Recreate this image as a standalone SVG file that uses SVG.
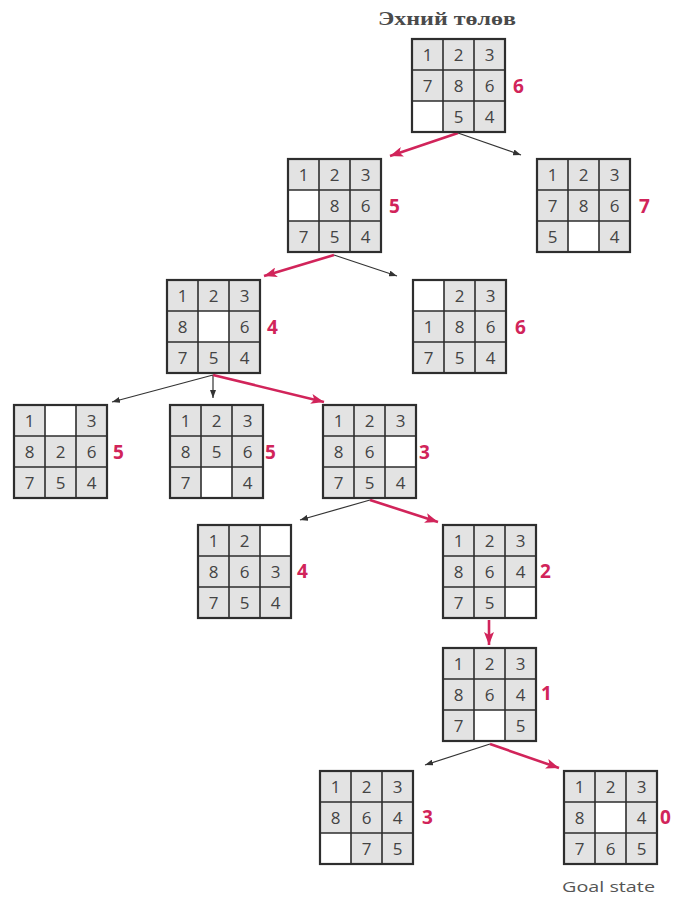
<svg xmlns="http://www.w3.org/2000/svg" xmlns:xlink="http://www.w3.org/1999/xlink" width="673" height="898" viewBox="0 0 673 898">
<style>
.bg{fill:#e3e3e3}
.blank{fill:#ffffff}
.n{font-family:"Open Sans","Liberation Sans",sans-serif;font-size:17px;fill:#444;text-anchor:middle}
.h{font-family:"Open Sans","Liberation Sans",sans-serif;font-size:19px;font-weight:700;fill:#d1245a}
.red{stroke:#d1245a;stroke-width:2.6;fill:none}
.blk{stroke:#333;stroke-width:1.2;fill:none}
.title{font-family:"Liberation Serif",serif;font-size:19px;font-weight:700;fill:#4a4a4a}
.goal{font-family:"Open Sans","Liberation Sans",sans-serif;font-size:15px;fill:#555}
</style>
<defs>
<g id="grid" fill="none" stroke="#2e2e2e">
<rect x="0" y="0" width="93" height="93" stroke-width="2.2"/>
<path d="M31,0V93M62,0V93M0,31H93M0,62H93" stroke-width="1.6"/>
</g>
<marker id="ar" markerUnits="userSpaceOnUse" markerWidth="14" markerHeight="10" refX="13" refY="5" orient="auto">
<path d="M0,0L13,5L0,10L3,5Z" fill="#d1245a"/>
</marker>
<marker id="ab" markerUnits="userSpaceOnUse" markerWidth="8" markerHeight="6" refX="8" refY="3" orient="auto">
<path d="M0,0L8,3L0,6Z" fill="#333"/>
</marker>
</defs>
<rect width="673" height="898" fill="#fff"/>
<text class="title" x="447" y="25" text-anchor="middle" textLength="138" lengthAdjust="spacingAndGlyphs">Эхний төлөв</text>

<g id="connectors">
<path class="red" d="M458,133L390,156" marker-end="url(#ar)"/>
<path class="blk" d="M458,133L521,155" marker-end="url(#ab)"/>
<path class="red" d="M334,255L264,276" marker-end="url(#ar)"/>
<path class="blk" d="M334,255L397,276" marker-end="url(#ab)"/>
<path class="blk" d="M213,375L112,402" marker-end="url(#ab)"/>
<path class="blk" d="M213,375L213,398" marker-end="url(#ab)"/>
<path class="red" d="M213,375L324,402" marker-end="url(#ar)"/>
<path class="blk" d="M370,500L300,520" marker-end="url(#ab)"/>
<path class="red" d="M370,500L438,522" marker-end="url(#ar)"/>
<path class="red" d="M489,620L489,645" marker-end="url(#ar)"/>
<path class="blk" d="M490,744L425,765" marker-end="url(#ab)"/>
<path class="red" d="M490,744L559,768" marker-end="url(#ar)"/>
</g>

<g id="n1" transform="translate(412,39)">
<rect class="bg" width="93" height="93"/><rect class="blank" x="0" y="62" width="31" height="31"/>
<text class="n" x="15.5" y="21.5">1</text><text class="n" x="46.5" y="21.5">2</text><text class="n" x="77.5" y="21.5">3</text>
<text class="n" x="15.5" y="52.5">7</text><text class="n" x="46.5" y="52.5">8</text><text class="n" x="77.5" y="52.5">6</text>
<text class="n" x="46.5" y="83.5">5</text><text class="n" x="77.5" y="83.5">4</text>
<use xlink:href="#grid"/>
<text class="h" x="101" y="54">6</text>
</g>

<g id="n2" transform="translate(288,159)">
<rect class="bg" width="93" height="93"/><rect class="blank" x="0" y="31" width="31" height="31"/>
<text class="n" x="15.5" y="21.5">1</text><text class="n" x="46.5" y="21.5">2</text><text class="n" x="77.5" y="21.5">3</text>
<text class="n" x="46.5" y="52.5">8</text><text class="n" x="77.5" y="52.5">6</text>
<text class="n" x="15.5" y="83.5">7</text><text class="n" x="46.5" y="83.5">5</text><text class="n" x="77.5" y="83.5">4</text>
<use xlink:href="#grid"/>
<text class="h" x="101" y="54">5</text>
</g>

<g id="n3" transform="translate(537,159)">
<rect class="bg" width="93" height="93"/><rect class="blank" x="31" y="62" width="31" height="31"/>
<text class="n" x="15.5" y="21.5">1</text><text class="n" x="46.5" y="21.5">2</text><text class="n" x="77.5" y="21.5">3</text>
<text class="n" x="15.5" y="52.5">7</text><text class="n" x="46.5" y="52.5">8</text><text class="n" x="77.5" y="52.5">6</text>
<text class="n" x="15.5" y="83.5">5</text><text class="n" x="77.5" y="83.5">4</text>
<use xlink:href="#grid"/>
<text class="h" x="102" y="54">7</text>
</g>

<g id="n4" transform="translate(167,280)">
<rect class="bg" width="93" height="93"/><rect class="blank" x="31" y="31" width="31" height="31"/>
<text class="n" x="15.5" y="21.5">1</text><text class="n" x="46.5" y="21.5">2</text><text class="n" x="77.5" y="21.5">3</text>
<text class="n" x="15.5" y="52.5">8</text><text class="n" x="77.5" y="52.5">6</text>
<text class="n" x="15.5" y="83.5">7</text><text class="n" x="46.5" y="83.5">5</text><text class="n" x="77.5" y="83.5">4</text>
<use xlink:href="#grid"/>
<text class="h" x="100" y="54">4</text>
</g>

<g id="n5" transform="translate(413,280)">
<rect class="bg" width="93" height="93"/><rect class="blank" x="0" y="0" width="31" height="31"/>
<text class="n" x="46.5" y="21.5">2</text><text class="n" x="77.5" y="21.5">3</text>
<text class="n" x="15.5" y="52.5">1</text><text class="n" x="46.5" y="52.5">8</text><text class="n" x="77.5" y="52.5">6</text>
<text class="n" x="15.5" y="83.5">7</text><text class="n" x="46.5" y="83.5">5</text><text class="n" x="77.5" y="83.5">4</text>
<use xlink:href="#grid"/>
<text class="h" x="102" y="54">6</text>
</g>

<g id="n6" transform="translate(14,405)">
<rect class="bg" width="93" height="93"/><rect class="blank" x="31" y="0" width="31" height="31"/>
<text class="n" x="15.5" y="21.5">1</text><text class="n" x="77.5" y="21.5">3</text>
<text class="n" x="15.5" y="52.5">8</text><text class="n" x="46.5" y="52.5">2</text><text class="n" x="77.5" y="52.5">6</text>
<text class="n" x="15.5" y="83.5">7</text><text class="n" x="46.5" y="83.5">5</text><text class="n" x="77.5" y="83.5">4</text>
<use xlink:href="#grid"/>
<text class="h" x="99" y="54">5</text>
</g>

<g id="n7" transform="translate(170,405)">
<rect class="bg" width="93" height="93"/><rect class="blank" x="31" y="62" width="31" height="31"/>
<text class="n" x="15.5" y="21.5">1</text><text class="n" x="46.5" y="21.5">2</text><text class="n" x="77.5" y="21.5">3</text>
<text class="n" x="15.5" y="52.5">8</text><text class="n" x="46.5" y="52.5">5</text><text class="n" x="77.5" y="52.5">6</text>
<text class="n" x="15.5" y="83.5">7</text><text class="n" x="77.5" y="83.5">4</text>
<use xlink:href="#grid"/>
<text class="h" x="95" y="54">5</text>
</g>

<g id="n8" transform="translate(323,405)">
<rect class="bg" width="93" height="93"/><rect class="blank" x="62" y="31" width="31" height="31"/>
<text class="n" x="15.5" y="21.5">1</text><text class="n" x="46.5" y="21.5">2</text><text class="n" x="77.5" y="21.5">3</text>
<text class="n" x="15.5" y="52.5">8</text><text class="n" x="46.5" y="52.5">6</text>
<text class="n" x="15.5" y="83.5">7</text><text class="n" x="46.5" y="83.5">5</text><text class="n" x="77.5" y="83.5">4</text>
<use xlink:href="#grid"/>
<text class="h" x="96" y="54">3</text>
</g>

<g id="n9" transform="translate(198,525)">
<rect class="bg" width="93" height="93"/><rect class="blank" x="62" y="0" width="31" height="31"/>
<text class="n" x="15.5" y="21.5">1</text><text class="n" x="46.5" y="21.5">2</text>
<text class="n" x="15.5" y="52.5">8</text><text class="n" x="46.5" y="52.5">6</text><text class="n" x="77.5" y="52.5">3</text>
<text class="n" x="15.5" y="83.5">7</text><text class="n" x="46.5" y="83.5">5</text><text class="n" x="77.5" y="83.5">4</text>
<use xlink:href="#grid"/>
<text class="h" x="99" y="53">4</text>
</g>

<g id="n10" transform="translate(443,525)">
<rect class="bg" width="93" height="93"/><rect class="blank" x="62" y="62" width="31" height="31"/>
<text class="n" x="15.5" y="21.5">1</text><text class="n" x="46.5" y="21.5">2</text><text class="n" x="77.5" y="21.5">3</text>
<text class="n" x="15.5" y="52.5">8</text><text class="n" x="46.5" y="52.5">6</text><text class="n" x="77.5" y="52.5">4</text>
<text class="n" x="15.5" y="83.5">7</text><text class="n" x="46.5" y="83.5">5</text>
<use xlink:href="#grid"/>
<text class="h" x="97" y="53">2</text>
</g>

<g id="n11" transform="translate(443,648)">
<rect class="bg" width="93" height="93"/><rect class="blank" x="31" y="62" width="31" height="31"/>
<text class="n" x="15.5" y="21.5">1</text><text class="n" x="46.5" y="21.5">2</text><text class="n" x="77.5" y="21.5">3</text>
<text class="n" x="15.5" y="52.5">8</text><text class="n" x="46.5" y="52.5">6</text><text class="n" x="77.5" y="52.5">4</text>
<text class="n" x="15.5" y="83.5">7</text><text class="n" x="77.5" y="83.5">5</text>
<use xlink:href="#grid"/>
<text class="h" x="98" y="52">1</text>
</g>

<g id="n12" transform="translate(320,771)">
<rect class="bg" width="93" height="93"/><rect class="blank" x="0" y="62" width="31" height="31"/>
<text class="n" x="15.5" y="21.5">1</text><text class="n" x="46.5" y="21.5">2</text><text class="n" x="77.5" y="21.5">3</text>
<text class="n" x="15.5" y="52.5">8</text><text class="n" x="46.5" y="52.5">6</text><text class="n" x="77.5" y="52.5">4</text>
<text class="n" x="46.5" y="83.5">7</text><text class="n" x="77.5" y="83.5">5</text>
<use xlink:href="#grid"/>
<text class="h" x="102" y="53">3</text>
</g>

<g id="n13" transform="translate(564,771)">
<rect class="bg" width="93" height="93"/><rect class="blank" x="31" y="31" width="31" height="31"/>
<text class="n" x="15.5" y="21.5">1</text><text class="n" x="46.5" y="21.5">2</text><text class="n" x="77.5" y="21.5">3</text>
<text class="n" x="15.5" y="52.5">8</text><text class="n" x="77.5" y="52.5">4</text>
<text class="n" x="15.5" y="83.5">7</text><text class="n" x="46.5" y="83.5">6</text><text class="n" x="77.5" y="83.5">5</text>
<use xlink:href="#grid"/>
<text class="h" x="96" y="53">0</text>
<text class="goal" x="-2" y="121" textLength="93" lengthAdjust="spacingAndGlyphs">Goal state</text>
</g>
</svg>
